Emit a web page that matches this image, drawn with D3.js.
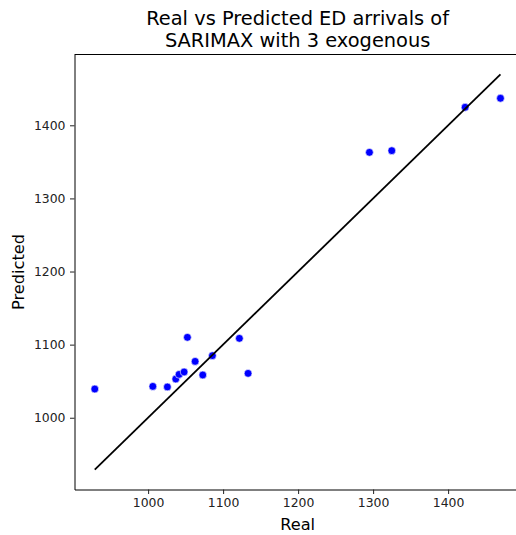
<!DOCTYPE html>
<html>
<head>
<meta charset="utf-8">
<script src="https://cdn.jsdelivr.net/npm/d3@7"></script>
<style>
  body { margin: 0; background: #fff; }
  svg { display: block; font-family: "DejaVu Sans", sans-serif; }
</style>
</head>
<body>
<div id="chart"></div>
<script>
const real = [928.9, 1006.3, 1025.7, 1036.9, 1041.3, 1048, 1052.4, 1062.7, 1072.9, 1085.7,
              1121.7, 1133.3, 1295.1, 1324.9, 1422.7, 1469.8];
const predicted = [1039.3, 1042.9, 1042.1, 1053.0, 1059.3, 1062.6, 1110, 1077.1, 1058.5, 1084.9,
                   1108.6, 1060.7, 1363.0, 1365.3, 1424.7, 1437];
const xTicks = [1000, 1100, 1200, 1300, 1400];
const yTicks = [1000, 1100, 1200, 1300, 1400];

const width = 516, height = 535;
const margin = { top: 54.5, right: -4.75, bottom: 45.5, left: 74.5 };

const svg = d3.select("#chart").append("svg")
    .attr("width", width)
    .attr("height", height);

const data = real.map((r, i) => ({ real: r, pred: predicted[i] }));

// matplotlib style limits: data range + 5% padding (the y=x line spans min..max of real)
const lo = d3.min(real), hi = d3.max(real);
const pad = (hi - lo) * 0.05;

const x = d3.scaleLinear()
    .domain([lo - pad, hi + pad])
    .range([margin.left, width - margin.right]);

const y = d3.scaleLinear()
    .domain([lo - pad, hi + pad])
    .range([height - margin.bottom, margin.top]);

// axes
svg.append("g")
    .attr("transform", `translate(0,${height - margin.bottom})`)
    .call(d3.axisBottom(x).tickValues(xTicks).tickFormat(d3.format("d"))
        .tickSize(4.5).tickSizeOuter(0).tickPadding(4.5))
    .call(g => g.select(".domain").attr("stroke", "#000").attr("stroke-width", 1));

svg.append("g")
    .attr("transform", `translate(${margin.left},0)`)
    .call(d3.axisLeft(y).tickValues(yTicks).tickFormat(d3.format("d"))
        .tickSize(4.5).tickSizeOuter(0).tickPadding(4.5))
    .call(g => g.select(".domain").attr("stroke", "#000").attr("stroke-width", 1));

svg.selectAll(".tick line").attr("stroke", "#222").attr("stroke-width", 1);
svg.selectAll(".tick text")
    .attr("fill", "#222")
    .style("font-family", "DejaVu Sans")
    .style("font-size", "12.4px");

// top and right spines
svg.append("line")
    .attr("x1", margin.left).attr("x2", width - margin.right)
    .attr("y1", margin.top).attr("y2", margin.top)
    .attr("stroke", "#000").attr("stroke-width", 1);
svg.append("line")
    .attr("x1", width - margin.right).attr("x2", width - margin.right)
    .attr("y1", margin.top).attr("y2", height - margin.bottom)
    .attr("stroke", "#000").attr("stroke-width", 1);

// points
svg.append("g")
  .selectAll("circle")
  .data(data)
  .join("circle")
    .attr("cx", d => x(d.real))
    .attr("cy", d => y(d.pred))
    .attr("r", 3.9)
    .attr("fill", "#0000ff")
    .attr("stroke", "#fff")
    .attr("stroke-width", 0.6);

// identity line
svg.append("path")
    .datum([lo, hi])
    .attr("d", d3.line().x(d => x(d)).y(d => y(d)))
    .attr("fill", "none")
    .attr("stroke", "#000")
    .attr("stroke-width", 1.8);

// labels
const cx = (margin.left + width - margin.right) / 2;
svg.append("text")
    .attr("x", cx).attr("y", 25.3)
    .attr("text-anchor", "middle")
    .style("font-size", "19.4px")
    .attr("fill", "#000")
    .text("Real vs Predicted ED arrivals of");
svg.append("text")
    .attr("x", cx).attr("y", 46.6)
    .attr("text-anchor", "middle")
    .style("font-size", "19.4px")
    .attr("fill", "#000")
    .text("SARIMAX with 3 exogenous");

svg.append("text")
    .attr("x", cx).attr("y", 530)
    .attr("text-anchor", "middle")
    .style("font-size", "16.2px")
    .attr("fill", "#000")
    .text("Real");

svg.append("text")
    .attr("transform", `translate(23.5,${(margin.top + height - margin.bottom) / 2}) rotate(-90)`)
    .attr("text-anchor", "middle")
    .style("font-size", "16.2px")
    .attr("fill", "#000")
    .text("Predicted");
</script>
</body>
</html>
